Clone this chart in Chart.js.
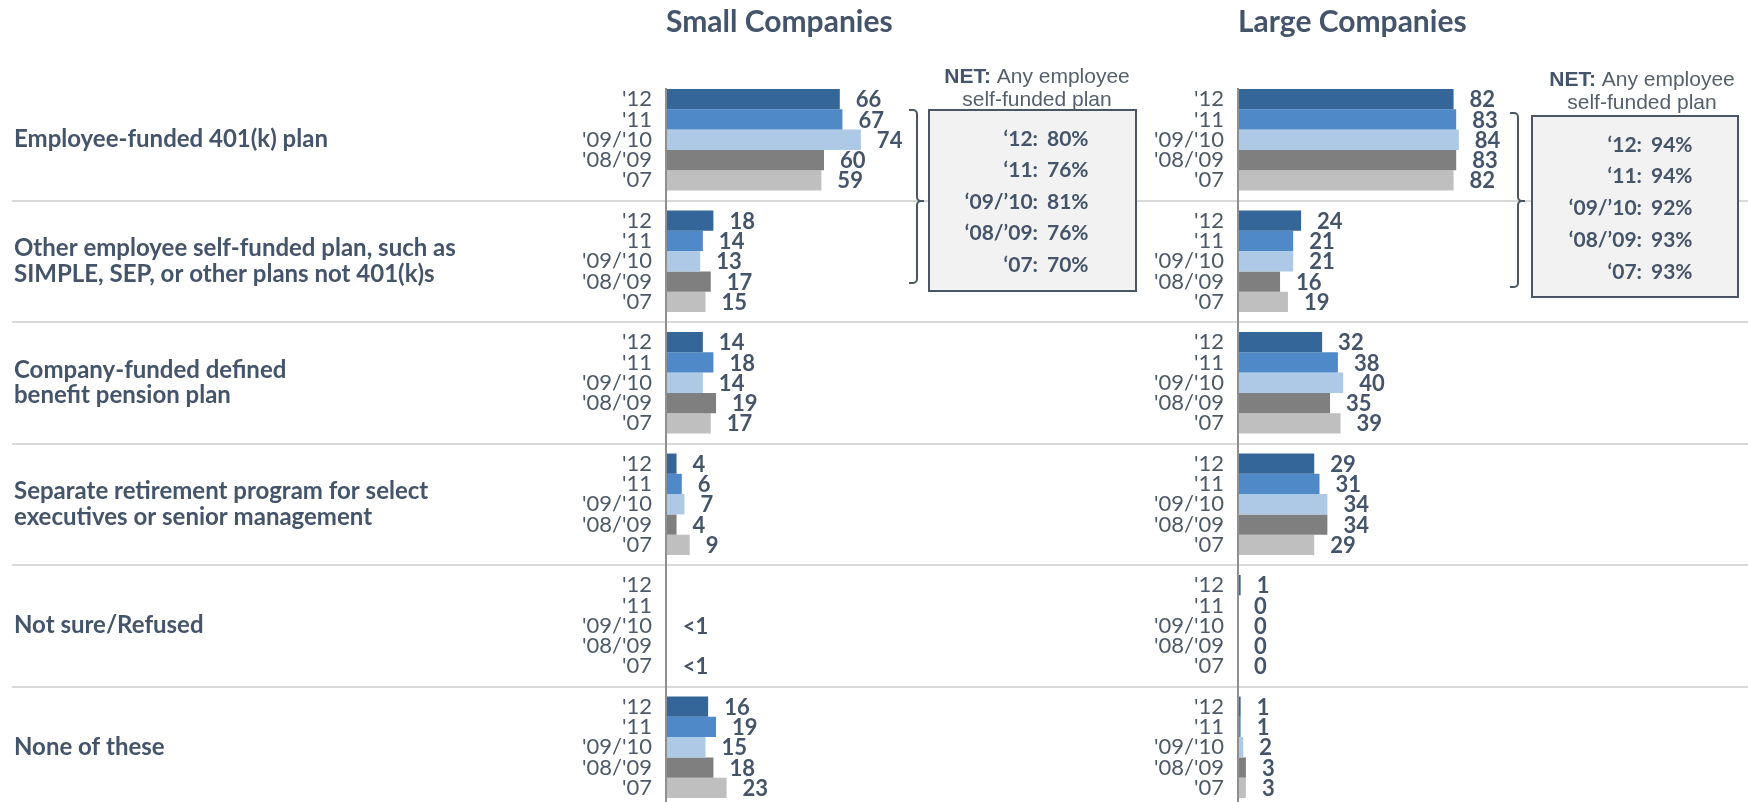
<!DOCTYPE html>
<html><head><meta charset="utf-8">
<script src="https://cdn.jsdelivr.net/npm/chart.js@4.4.1/dist/chart.umd.min.js"></script>
<style>
html,body{margin:0;padding:0;background:#fff;overflow:hidden;width:1748px;height:802px;}
canvas{position:absolute;top:0;}
#a{left:0;}
#b{left:1140px;}
</style></head><body>
<canvas id="a" width="1140" height="808"></canvas>
<canvas id="b" width="608" height="808"></canvas>
<script>
// ---------- DATA ----------
const categories = [
  ["Employee-funded 401(k) plan"],
  ["Other employee self-funded plan, such as", "SIMPLE, SEP, or other plans not 401(k)s"],
  ["Company-funded defined", "benefit pension plan"],
  ["Separate retirement program for select", "executives or senior management"],
  ["Not sure/Refused"],
  ["None of these"]
];
const yearLabels = ["'12", "'11", "'09/'10", "'08/'09", "'07"];

// Small companies (0.3 = "<1", null = no answer shown)
const small12   = [66, 18, 14, 4, null, 16];
const small11   = [67, 14, 18, 6, null, 19];
const small0910 = [74, 13, 14, 7, 0.3, 15];
const small0809 = [60, 17, 19, 4, null, 18];
const small07   = [59, 15, 17, 9, 0.3, 23];

// Large companies
const large12   = [82, 24, 32, 29, 1, 1];
const large11   = [83, 21, 38, 31, 0, 1];
const large0910 = [84, 21, 40, 34, 0, 2];
const large0809 = [83, 16, 35, 34, 0, 3];
const large07   = [82, 19, 39, 29, 0, 3];

// NET: Any employee self-funded plan
const netYears = ["\u201812", "\u201811", "\u201809/\u201910", "\u201808/\u201909", "\u201807"];
const netSmall = [80, 76, 81, 76, 70];
const netLarge = [94, 94, 92, 93, 93];

// ---------- STYLE ----------
const TEXT = '#44546A';
const YEARTEXT = '#4D5968';
const barColors = ['#35669A', '#4F89C7', '#ADC9E6', '#7F7F7F', '#BFBFBF'];
const CAT_PCT = 0.835;

const valueLabels = {
  id: 'valueLabels',
  afterDatasetsDraw(chart) {
    const ctx = chart.ctx;
    ctx.save();
    // axis line starting at the first bar
    const first = chart.getDatasetMeta(0).data[0];
    const x0 = chart.chartArea.left;
    ctx.strokeStyle = '#8F8F8F';
    ctx.lineWidth = 2;
    ctx.beginPath();
    ctx.moveTo(x0, first.y - first.height / 2 - 1);
    ctx.lineTo(x0, chart.chartArea.bottom);
    ctx.stroke();

    ctx.font = 'bold 22px Lato';
    ctx.fillStyle = TEXT;
    ctx.textAlign = 'left';
    ctx.textBaseline = 'middle';
    chart.data.datasets.forEach((ds, i) => {
      const meta = chart.getDatasetMeta(i);
      meta.data.forEach((bar, j) => {
        const v = ds.data[j];
        if (v === null || v === undefined || !isFinite(bar.x)) return;
        const t = (v > 0 && v < 1) ? '<1' : String(v);
        ctx.fillText(t, bar.x + 16, bar.y + 1);
      });
    });
    ctx.restore();
  }
};

const separators = {
  id: 'separators',
  beforeDraw(chart, args, opts) {
    const s = chart.scales.yGroup, ctx = chart.ctx;
    ctx.save();
    ctx.strokeStyle = '#D9D9D9';
    ctx.lineWidth = 2;
    for (let i = 0; i < categories.length - 1; i++) {
      const y = Math.round((s.getPixelForValue(i) + s.getPixelForValue(i + 1)) / 2);
      ctx.beginPath();
      ctx.moveTo(opts.x0, y);
      ctx.lineTo(chart.width, y);
      ctx.stroke();
    }
    ctx.restore();
  }
};

const netBox = {
  id: 'netBox',
  afterDraw(chart, args, o) {
    const ctx = chart.ctx, s = chart.scales.yGroup;
    const mid = Math.round((s.getPixelForValue(0) + s.getPixelForValue(1)) / 2);
    ctx.save();
    // bracket
    ctx.strokeStyle = '#4A5565';
    ctx.lineWidth = 2;
    ctx.beginPath();
    ctx.moveTo(o.bx - 8, o.bTop);
    ctx.arcTo(o.bx, o.bTop, o.bx, o.bTop + 6, 4);
    ctx.lineTo(o.bx, mid - 4);
    ctx.arcTo(o.bx, mid, o.bx + 7, mid, 4);
    ctx.lineTo(o.bx + 7, mid);
    ctx.moveTo(o.bx + 7, mid);
    ctx.arcTo(o.bx, mid, o.bx, mid + 4, 4);
    ctx.lineTo(o.bx, o.bBot - 6);
    ctx.arcTo(o.bx, o.bBot, o.bx - 8, o.bBot, 4);
    ctx.lineTo(o.bx - 8, o.bBot);
    ctx.stroke();
    // box
    ctx.fillStyle = '#F2F2F2';
    ctx.fillRect(o.l, o.t, o.r - o.l, o.b - o.t);
    ctx.strokeRect(o.l, o.t, o.r - o.l, o.b - o.t);
    // header
    ctx.textBaseline = 'middle';
    ctx.textAlign = 'left';
    const f1 = 'bold 21px "Liberation Sans"', f2 = '21px "Liberation Sans"';
    ctx.font = f1; const w1 = ctx.measureText('NET:').width;
    ctx.font = f2; const w2 = ctx.measureText(' Any employee').width;
    let x = o.hx - (w1 + w2) / 2;
    ctx.font = f1; ctx.fillStyle = TEXT; ctx.fillText('NET:', x, o.hy1);
    ctx.font = f2; ctx.fillStyle = '#555F6C'; ctx.fillText(' Any employee', x + w1, o.hy1);
    ctx.textAlign = 'center';
    ctx.fillText('self-funded plan', o.hx, o.hy2);
    // rows
    ctx.font = 'bold 21px Lato';
    ctx.fillStyle = TEXT;
    o.values.forEach((v, k) => {
      const y = o.ry0 + k * o.rstep;
      ctx.textAlign = 'right';
      ctx.fillText(netYears[k] + ':', o.vx - 9, y);
      ctx.textAlign = 'left';
      ctx.fillText(v + '%', o.vx, y);
    });
    ctx.restore();
  }
};

function makeChart(id, series, cfg) {
  return new Chart(document.getElementById(id), {
    type: 'bar',
    data: {
      labels: categories,
      datasets: series.map((d, k) => ({
        label: yearLabels[k],
        data: d,
        backgroundColor: barColors[k],
        borderWidth: 0,
        categoryPercentage: CAT_PCT,
        barPercentage: 1,
        xAxisID: 'x',
        yAxisID: 'yGroup'
      }))
    },
    options: {
      indexAxis: 'y',
      responsive: false,
      animation: false,
      events: [],
      layout: { padding: { left: cfg.padLeft, right: 0, top: 0, bottom: 0 } },
      scales: {
        x: { display: false, min: 0, max: cfg.xMax },
        yGroup: {
          type: 'category',
          position: 'left',
          weight: 1,
          display: cfg.showGroups,
          offset: true,
          grid: { display: false, drawTicks: false },
          border: { display: false },
          afterFit: s => { s.width = cfg.groupWidth; s.paddingTop = 0; s.paddingBottom = 0; },
          ticks: {
            crossAlign: 'far',
            padding: 0,
            autoSkip: false,
            color: TEXT,
            font: { family: 'Lato', weight: 'bold', size: 24, lineHeight: 1.06 }
          }
        },
        yYear: {
          type: 'linear',
          position: 'left',
          weight: 0,
          reverse: true,
          offset: false,
          bounds: 'data',
          min: -0.5,
          max: categories.length - 0.5,
          afterBuildTicks: s => {
            const t = [];
            categories.forEach((c, g) => yearLabels.forEach((y, k) => {
              t.push({ value: g + (k - (yearLabels.length - 1) / 2) * CAT_PCT / yearLabels.length });
            }));
            s.ticks = t;
            s.min = -0.5;
            s.max = categories.length - 0.5;
          },
          afterFit: s => { s.width = cfg.yearWidth; s.paddingTop = 0; s.paddingBottom = 0; },
          grid: { display: false, offset: false, drawTicks: false },
          border: { display: false },
          ticks: {
            autoSkip: false,
            padding: cfg.yearPad,
            color: YEARTEXT,
            font: { family: 'Lato', size: 22 },
            callback: (v, i) => yearLabels[i % yearLabels.length]
          }
        }
      },
      plugins: {
        legend: { display: false },
        tooltip: { enabled: false },
        title: {
          display: true,
          text: cfg.title,
          fullSize: false,
          align: 'start',
          color: TEXT,
          font: { family: 'Lato', weight: 'bold', size: 30, lineHeight: 1.2 },
          padding: { top: 4, bottom: 39 }
        },
        separators: { x0: cfg.sepX0 },
        netBox: cfg.net
      }
    },
    plugins: [separators, valueLabels, netBox]
  });
}

makeChart('a', [small12, small11, small0910, small0809, small07], {
  title: 'Small Companies',
  padLeft: 14,
  xMax: 180,
  showGroups: true,
  groupWidth: 546,
  yearWidth: 106,
  yearPad: 14,
  sepX0: 12,
  net: { bx: 917, bTop: 110, bBot: 283, l: 929, t: 110, r: 1136, b: 291,
         hx: 1037, hy1: 77, hy2: 100, vx: 1047, ry0: 139, rstep: 31.5, values: netSmall }
});

makeChart('b', [large12, large11, large0910, large0809, large07], {
  title: 'Large Companies',
  padLeft: 0,
  xMax: 194,
  showGroups: false,
  groupWidth: 0,
  yearWidth: 98,
  yearPad: 14,
  sepX0: 0,
  net: { bx: 1518 - 1140, bTop: 113, bBot: 287, l: 1532 - 1140, t: 116, r: 1738 - 1140, b: 297,
         hx: 1642 - 1140, hy1: 80, hy2: 103, vx: 1651 - 1140, ry0: 145, rstep: 31.7, values: netLarge }
});
</script>
</body></html>
